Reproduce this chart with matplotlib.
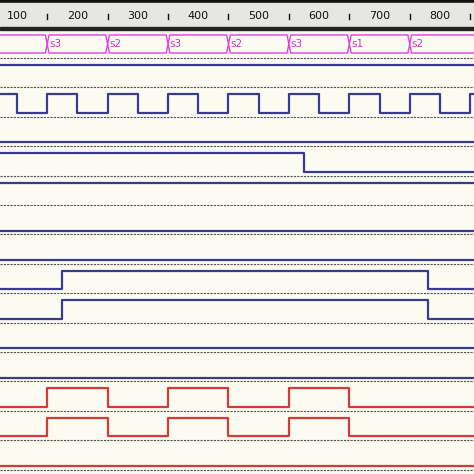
import matplotlib
matplotlib.use("Agg")
import matplotlib.pyplot as plt
import numpy as np

ticks = [100, 200, 300, 400, 500, 600, 700, 800]
bus_edges = [150, 250, 350, 450, 550, 650, 750]
bus_labels = ["", "s3", "s2", "s3", "s2", "s3", "s1", "s2"]
clk_edges = [100, 150, 200, 250, 300, 350, 400, 450, 500, 550, 600, 650, 700, 750, 800, 850]
# each row: (initial level, toggle times, colour)
rows = [
    (1, [], "blue"),
    (1, clk_edges, "blue"),
    (0, [], "blue"),
    (1, [575], "blue"),
    (1, [], "blue"),
    (0, [], "blue"),
    (0, [], "blue"),
    (0, [175, 780], "blue"),
    (0, [175, 780], "blue"),
    (0, [], "blue"),
    (0, [], "blue"),
    (0, [150, 250, 350, 450, 550, 650], "red"),
    (0, [150, 250, 350, 450, 550, 650], "red"),
    (0, [], "red"),
]
colors = {"blue": "#3a3a8e", "red": "#d43a3a"}

X0, X1 = 71.9, 856.3
fig = plt.figure(figsize=(4.74, 4.74), dpi=100)
ax = fig.add_axes([0, 0, 1, 1])
ax.set_xlim(X0, X1)
ax.set_ylim(474, 0)
ax.axis("off")
fig.patch.set_facecolor("#fcfbf2")

# ruler
ax.axhspan(0, 3, color="#111111")
ax.axhspan(3, 27, color="#e6e6e2")
ax.axhspan(27, 30, color="#222222")
for t in ticks:
    ax.text(t, 16, str(t), ha="center", va="center", fontsize=8, color="#111111")
    ax.plot([t + 50, t + 50], [14, 19], color="#111111", lw=1)

# bus
top, bot = 35, 53
mid = (top + bot) / 2
d = 3
xs, yt, yb = [X0], [top], [bot]
for e in bus_edges:
    xs += [e - d, e, e + d]
    yt += [top, mid, top]
    yb += [bot, mid, bot]
xs.append(X1); yt.append(top); yb.append(bot)
ax.plot(xs, yt, color="#e040e0", lw=1)
ax.plot(xs, yb, color="#e040e0", lw=1)
for e, lab in zip([X0] + bus_edges, bus_labels):
    if lab:
        ax.text(e + 3, mid, lab, ha="left", va="center", fontsize=7.5, color="#d030d0")

seps = [58 + 29.4 * i for i in range(15)]
for s in seps:
    ax.plot([X0, X1], [s, s], color="#555555", lw=0.8, ls=(0, (2, 1)))

for i, (lev, tog, c) in enumerate(rows):
    s = seps[i]
    hi, lo = s + 7, s + 25.5
    xs, ys = [X0], []
    l = lev
    ys.append(hi if l else lo)
    for t in tog:
        xs += [t, t]
        ys += [hi if l else lo]
        l = 1 - l
        ys += [hi if l else lo]
    xs.append(X1); ys.append(hi if l else lo)
    ax.plot(xs, ys, color=colors[c], lw=1.6, drawstyle="default")

fig.savefig("out.png", dpi=100, facecolor=fig.get_facecolor())
